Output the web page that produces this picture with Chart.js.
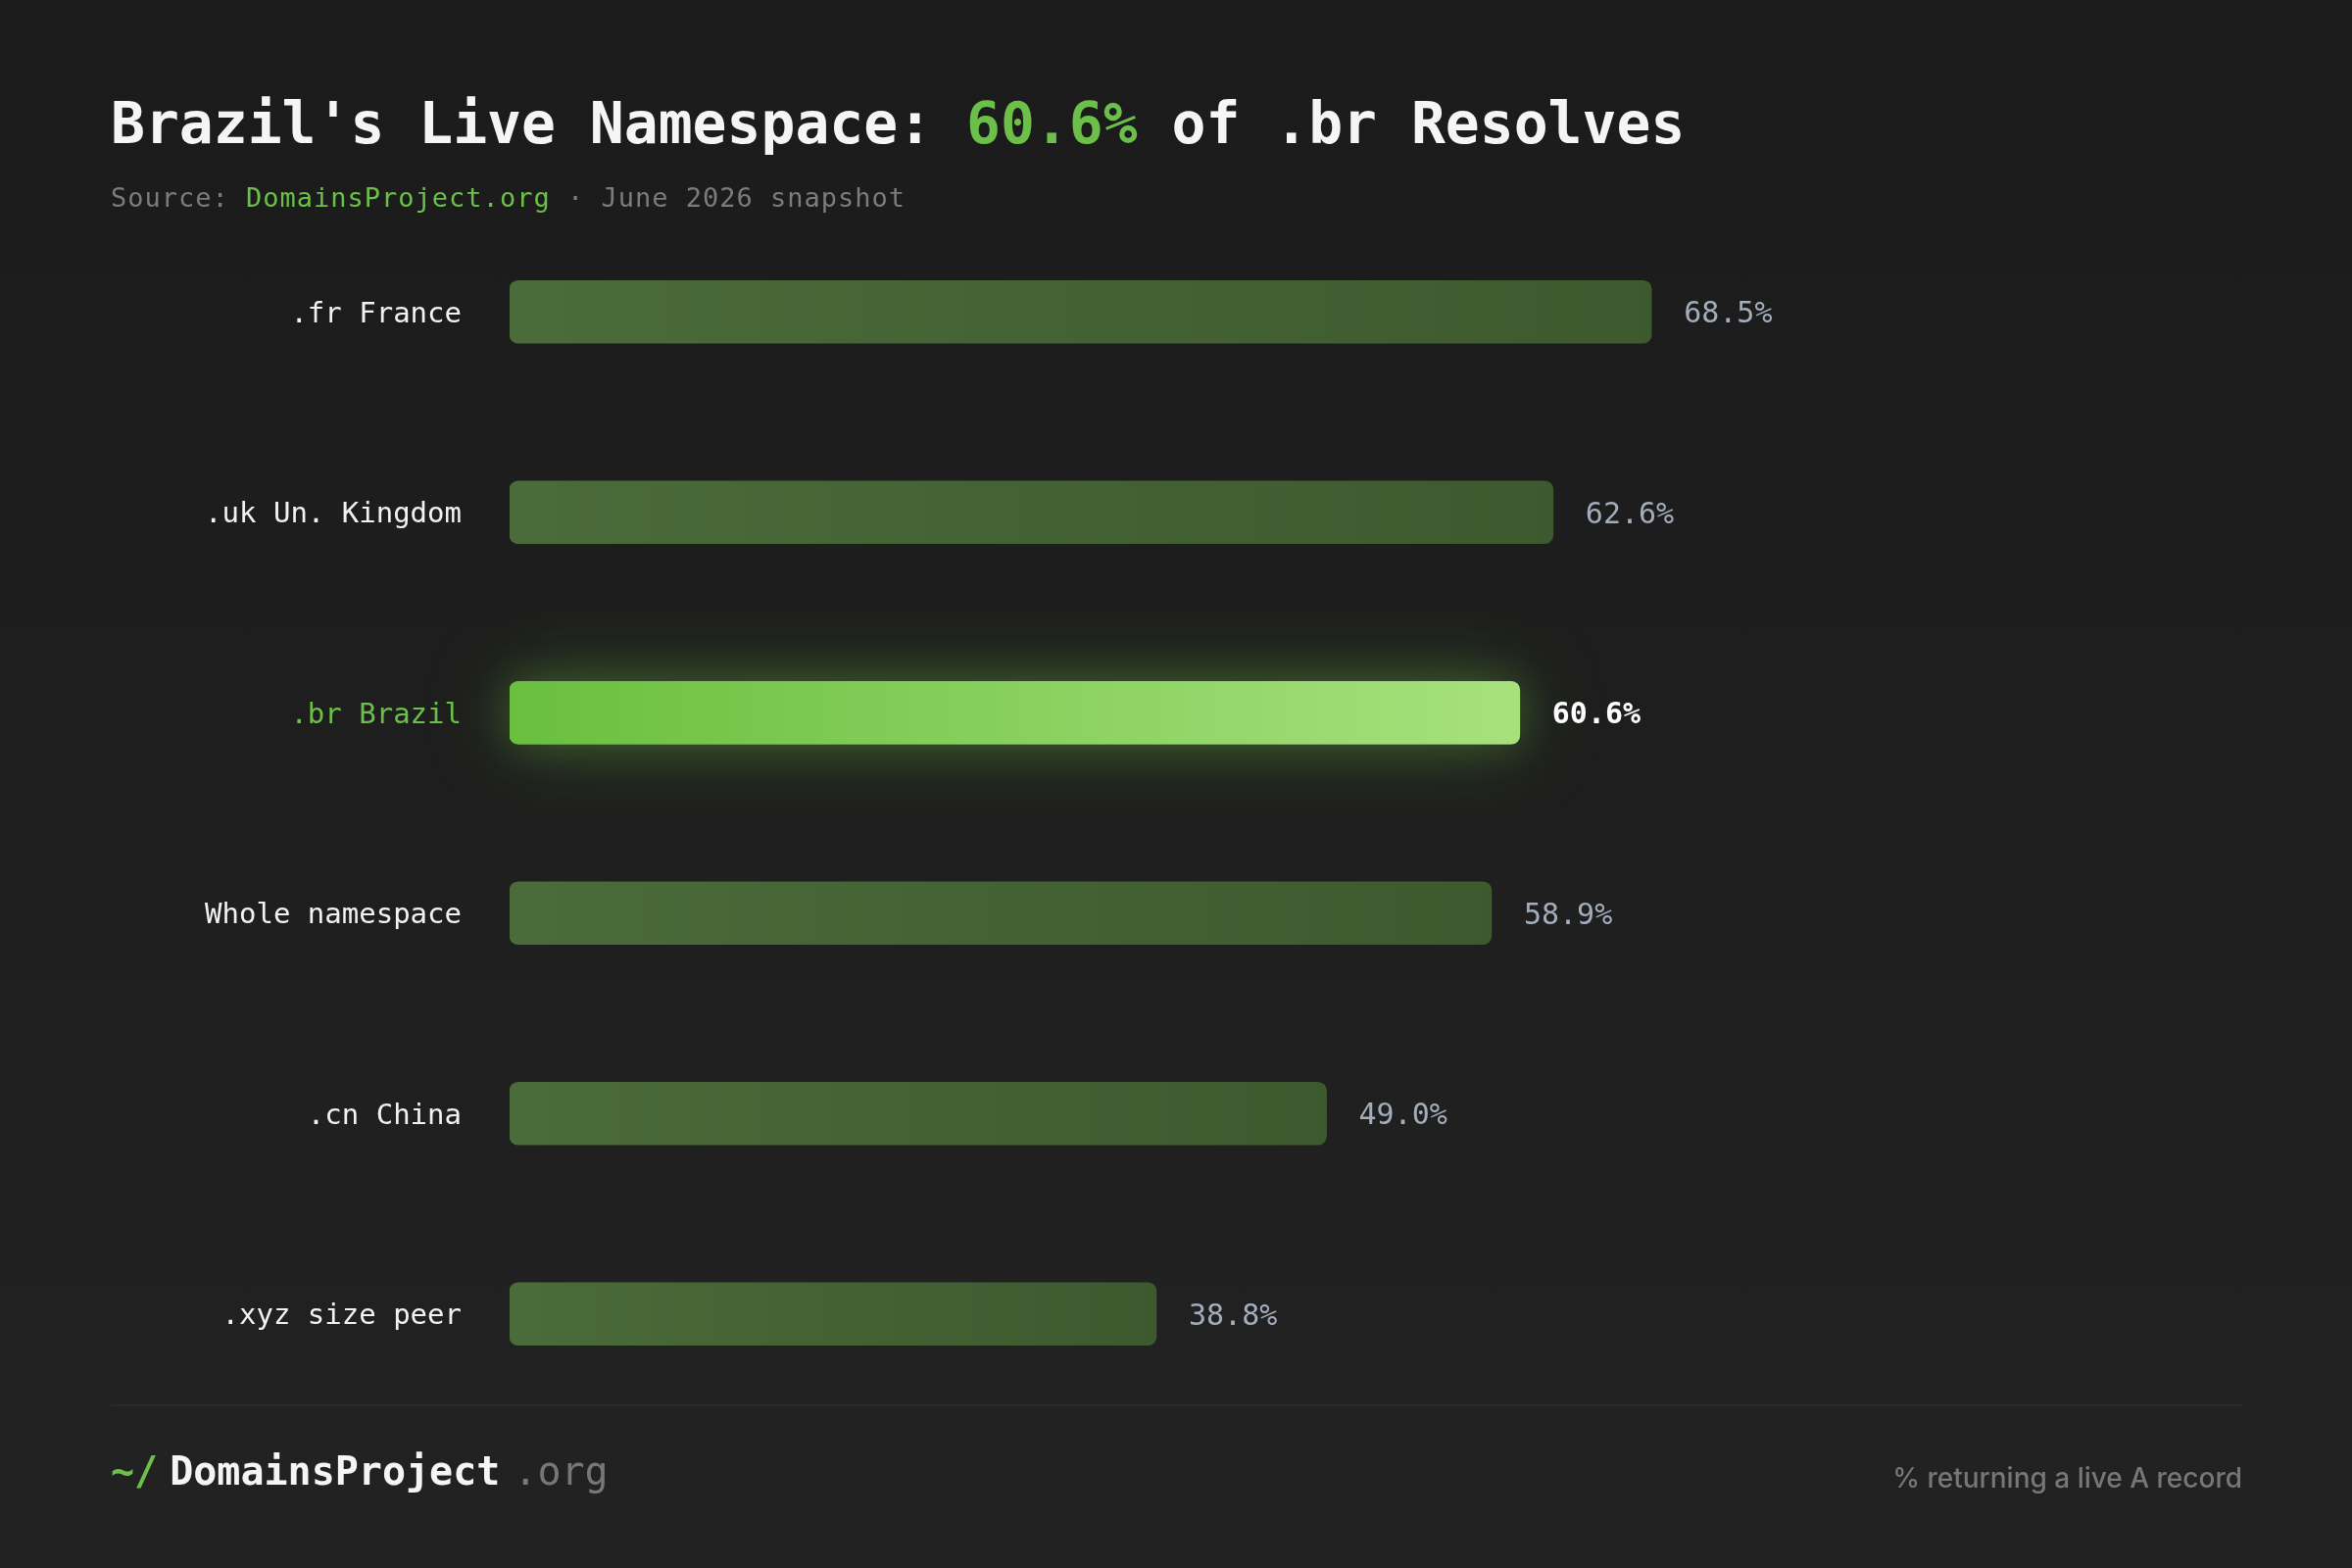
<!DOCTYPE html>
<html lang="en">
<head>
  <meta charset="UTF-8">
  <title>Brazil's Live Namespace</title>
  <script src="https://cdn.jsdelivr.net/npm/chart.js"></script>
  <style>
    html, body { margin: 0; padding: 0; }
    body {
      width: 2400px; height: 1600px; overflow: hidden; position: relative;
      background: linear-gradient(180deg, #1b1b1b 0%, #1f1f1f 60%, #222222 100%);
      font-family: "DejaVu Sans Mono", "Liberation Mono", monospace;
    }
    #chartWrap { position: absolute; left: 0; top: 0; width: 2400px; height: 1600px; }
    .title {
      position: absolute; left: 113px; top: 97px; margin: 0;
      font-size: 58px; line-height: 58px; font-weight: bold; color: #f5f5f5; white-space: nowrap;
    }
    .title .hl { color: #6cc04a; }
    .subtitle {
      position: absolute; left: 113px; top: 188px;
      font-size: 27px; line-height: 27px; letter-spacing: 1px; color: #7c7c7c; white-space: nowrap;
    }
    .subtitle .hl { color: #6cc04a; }
    .rule { position: absolute; left: 113px; top: 1433px; width: 2175px; height: 2px; background: #2b2b2b; }
    .brand {
      position: absolute; left: 113px; top: 1481px;
      font-size: 40px; line-height: 40px; white-space: nowrap;
    }
    .brand .tilde { color: #6cc04a; font-weight: bold; margin-right: 12px; }
    .brand .name { color: #f5f5f5; font-weight: bold; }
    .brand .tld { color: #777777; margin-left: 14px; }
    .note {
      position: absolute; right: 112px; top: 1494px;
      font-family: Inter, "Noto Sans", sans-serif; font-size: 28px; line-height: 28px;
      font-weight: 500; color: #777777; white-space: nowrap;
    }
  </style>
</head>
<body>
  <div id="chartWrap"><canvas id="liveChart" width="2400" height="1600"></canvas></div>

  <div class="title">Brazil's Live Namespace: <span class="hl">60.6%</span> of .br Resolves</div>
  <div class="subtitle">Source: <span class="hl">DomainsProject.org</span> · June 2026 snapshot</div>

  <div class="rule"></div>
  <div class="brand"><span class="tilde">~/</span><span class="name">DomainsProject</span><span class="tld">.org</span></div>
  <div class="note">% returning a live A record</div>

  <script>
    // Data
    const categories = ['.fr France', '.uk Un. Kingdom', '.br Brazil', 'Whole namespace', '.cn China', '.xyz size peer'];
    const liveShare = [68.5, 62.6, 60.6, 58.9, 49.0, 38.8];
    const highlightIndex = 2; // .br

    const GREEN = '#6cc04a';
    const mono = '"DejaVu Sans Mono", "Liberation Mono", monospace';

    // Horizontal gradient from the bar start to its end
    function barFill(context) {
      const chart = context.chart;
      if (!chart.chartArea || !chart.scales.x) {
        return context.dataIndex === highlightIndex ? GREEN : '#456536';
      }
      const xs = chart.scales.x;
      const x0 = xs.getPixelForValue(0);
      const x1 = xs.getPixelForValue(context.raw);
      const g = chart.ctx.createLinearGradient(x0, 0, x1, 0);
      if (context.dataIndex === highlightIndex) {
        g.addColorStop(0, '#6abf3f');
        g.addColorStop(1, '#a7e17d');
      } else {
        g.addColorStop(0, '#4a6b3a');
        g.addColorStop(1, '#3d5a2e');
      }
      return g;
    }

    // Soft glow behind the highlighted bar
    const glowPlugin = {
      id: 'glow',
      beforeDatasetsDraw(chart) {
        const bar = chart.getDatasetMeta(0).data[highlightIndex];
        if (!bar) return;
        const { x, y, base, height } = bar.getProps(['x', 'y', 'base', 'height'], true);
        const ctx = chart.ctx;
        ctx.save();
        ctx.fillStyle = 'rgba(108, 192, 64, 0.9)';
        [[90, 'rgba(110, 196, 66, 0.30)'], [45, 'rgba(110, 196, 66, 0.35)']].forEach(([blur, col]) => {
          ctx.shadowColor = col;
          ctx.shadowBlur = blur;
          ctx.beginPath();
          ctx.roundRect(base, y - height / 2, x - base, height, 9);
          ctx.fill();
        });
        ctx.restore();
      }
    };

    // Value labels at the end of each bar
    const valueLabels = {
      id: 'valueLabels',
      afterDatasetsDraw(chart) {
        const ctx = chart.ctx;
        const meta = chart.getDatasetMeta(0);
        ctx.save();
        ctx.textAlign = 'left';
        ctx.textBaseline = 'middle';
        meta.data.forEach((bar, i) => {
          const hl = i === highlightIndex;
          ctx.font = (hl ? 'bold ' : '') + '30px ' + mono;
          ctx.fillStyle = hl ? '#ffffff' : '#a3adbb';
          ctx.fillText(liveShare[i].toFixed(1) + '%', bar.x + 33, bar.y + 3);
        });
        ctx.restore();
      }
    };

    const ctx = document.getElementById('liveChart').getContext('2d');
    const liveChart = new Chart(ctx, {
      type: 'bar',
      data: {
        labels: categories,
        datasets: [{
          label: 'Live share',
          data: liveShare,
          backgroundColor: barFill,
          borderRadius: 9,
          borderSkipped: false,
          barThickness: 64
        }]
      },
      options: {
        indexAxis: 'y',
        responsive: false,
        animation: false,
        devicePixelRatio: 1,
        layout: { padding: { left: 0, right: 179, top: 216, bottom: 157 } },
        plugins: {
          legend: { display: false },
          tooltip: { enabled: false }
        },
        scales: {
          x: {
            display: false,
            min: 0,
            max: 100
          },
          y: {
            grid: { display: false, drawTicks: false },
            border: { display: false },
            afterFit(scale) { scale.width = 520; },
            ticks: {
              padding: 49,
              labelOffset: 3,
              font: { family: mono, size: 29 },
              color: (c) => c.index === highlightIndex ? GREEN : '#f2f2f2'
            }
          }
        }
      },
      plugins: [glowPlugin, valueLabels]
    });
  </script>
</body>
</html>
